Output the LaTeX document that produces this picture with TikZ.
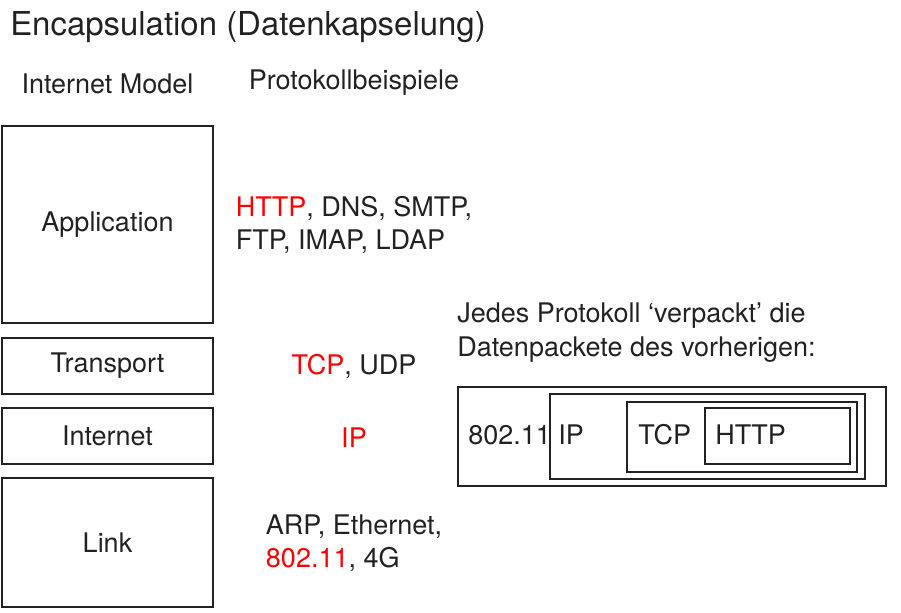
\documentclass[tikz,border=0pt]{standalone}
\usepackage{fontspec}
\setmainfont{TeX Gyre Heros}
\usetikzlibrary{positioning}
\definecolor{ink}{HTML}{222222}
\definecolor{hl}{HTML}{FF0000}

\begin{document}
\begin{tikzpicture}[x=0.75pt, y=-0.75pt]
  \def\px{0.75pt}
  \def\layerwidth{211*\px}
  \tikzstyle{txt} = [inner sep=0pt, text=ink, font=\fontsize{20.25}{24.75}\selectfont]
  \tikzstyle{layer} = [txt, rectangle, draw=ink, line width=1.5pt, minimum width=\layerwidth]
  \tikzstyle{packet} = [rectangle, draw=ink, line width=1.5pt, inner sep=0pt]

  \useasboundingbox (0,0) rectangle (901,613);

  \node[txt, anchor=base west, font=\fontsize{24.7}{30}\selectfont] (title) at (10,36) {Encapsulation (Datenkapselung)};
  \node[txt, anchor=base] (model) at (107.5,94) {Internet Model};
  \node[txt, anchor=base] (examples) at (354,90) {Protokollbeispiele};

  % layers of the internet model
  \node[layer, minimum height=197*\px] (app) at (107.5,224.5) {Application};
  \node[layer, minimum height=56*\px] (transport) at (107.5,366) {Transport};
  \node[layer, minimum height=56*\px] (internet) at (107.5,436) {Internet};
  \node[layer, minimum height=129*\px] (link) at (107.5,542.5) {Link};

  % protocols per layer
  \node[txt, align=left, anchor=base] (appproto) at (354,250)
    {\textcolor{hl}{HTTP}, DNS, SMTP,\\FTP, IMAP, LDAP};
  \node[txt, anchor=base] (transportproto) at (354,375) {\textcolor{hl}{TCP}, UDP};
  \node[txt, anchor=base, text=hl] (internetproto) at (354,447) {IP};
  \node[txt, align=left, anchor=base] (linkproto) at (354,567)
    {ARP, Ethernet,\\\textcolor{hl}{802.11}, 4G};

  \node[txt, align=left, anchor=base west, font=\fontsize{20.25}{25.5}\selectfont] (note) at (457,357)
    {Jedes Protokoll ‘verpackt’ die\\Datenpackete des vorherigen:};

  % nested packets
  \node[packet, minimum width=428*\px, minimum height=99*\px] (frame) at (672,436.7) {};
  \node[packet, minimum width=315*\px, minimum height=84*\px] (ipbox) at (707.5,436.5) {};
  \node[packet, minimum width=230*\px, minimum height=70*\px] (tcpbox) at (742.3,436.7) {};
  \node[packet, minimum width=145*\px, minimum height=56*\px] (httpbox) at (777.5,436.3) {};

  \node[txt, anchor=base west] (framelabel) at (468,445) {802.11};
  \node[txt, anchor=base west] (iplabel) at (558,445) {IP};
  \node[txt, anchor=base west] (tcplabel) at (638,445) {TCP};
  \node[txt, anchor=base west] (httplabel) at (715,445) {HTTP};

\end{tikzpicture}
\end{document}
